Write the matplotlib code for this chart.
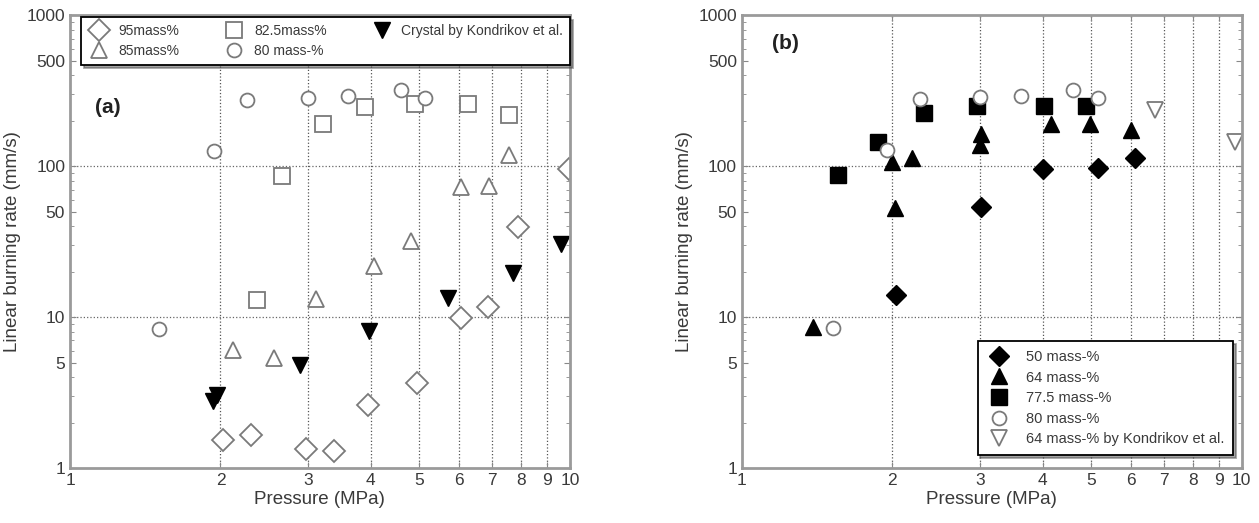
import matplotlib.pyplot as plt
from matplotlib.ticker import FixedLocator, FixedFormatter, NullFormatter

plt.rcParams['font.family'] = ['Liberation Sans', 'DejaVu Sans']

# (a) pressure [MPa] / linear burning rate [mm/s]
p95 = [2.02, 2.30, 2.97, 3.37, 3.95, 4.95, 6.07, 6.85, 7.88, 9.96]
r95 = [1.54, 1.66, 1.34, 1.29, 2.61, 3.67, 9.9, 11.6, 39.8, 96]
p85 = [2.12, 2.56, 3.11, 4.05, 4.82, 6.07, 6.89, 7.57]
r85 = [6.1, 5.4, 13.1, 21.8, 31.8, 73, 74, 119]
p825 = [2.37, 2.65, 3.21, 3.90, 4.89, 6.25, 7.55]
r825 = [12.9, 86, 189, 246, 257, 257, 219]
p80 = [1.51, 1.94, 2.26, 2.99, 3.60, 4.59, 5.13]
r80 = [8.4, 126, 275, 284, 290, 318, 284]
p_cryst = [1.93, 1.97, 2.89, 3.97, 5.71, 7.71, 9.62]
r_cryst = [2.77, 3.07, 4.80, 8.07, 13.4, 19.7, 30.5]

# (b)
p50 = [2.03, 3.01, 4.00, 5.15, 6.12]
r50 = [14.0, 53.8, 96, 97.5, 113.5]
p64 = [1.39, 2.00, 2.02, 2.19, 3.00, 3.01, 4.15, 4.96, 6.01]
r64 = [8.6, 106, 52.5, 113.5, 137, 163, 190, 190, 173]
p775 = [1.56, 1.87, 2.31, 2.96, 4.02, 4.87]
r775 = [87, 144, 226, 250, 252, 252]
p80b = [1.52, 1.95, 2.27, 3.00, 3.61, 4.59, 5.15]
r80b = [8.5, 127, 279, 286, 291, 317, 284]
p64k = [6.70, 9.68]
r64k = [234, 145]

x_ticks = [1, 2, 3, 4, 5, 6, 7, 8, 9, 10]
y_ticks = [1, 5, 10, 50, 100, 500, 1000]

GRAY = '#7a7a7a'
TEXT = '#3a3a3a'


def style_axes(ax):
    ax.set_xscale('log')
    ax.set_yscale('log')
    ax.set_xlim(1, 10)
    ax.set_ylim(1, 1000)
    ax.xaxis.set_major_locator(FixedLocator(x_ticks))
    ax.xaxis.set_major_formatter(FixedFormatter([str(v) for v in x_ticks]))
    ax.xaxis.set_minor_formatter(NullFormatter())
    ax.yaxis.set_major_locator(FixedLocator(y_ticks))
    ax.yaxis.set_major_formatter(FixedFormatter([str(v) for v in y_ticks]))
    ax.yaxis.set_minor_locator(FixedLocator(
        [m * 10 ** d for d in range(3) for m in range(2, 10) if m != 5]))
    ax.yaxis.set_minor_formatter(NullFormatter())
    ax.tick_params(which='both', direction='in', top=True, right=True,
                   colors='#888888', labelcolor=TEXT, labelsize=12.5)
    ax.tick_params(which='major', length=4)
    ax.tick_params(which='minor', length=3)
    for x in x_ticks[1:-1]:
        ax.axvline(x, color='#555555', ls=':', lw=0.9, zorder=0)
    for y in (10, 100):
        ax.axhline(y, color='#666666', ls=':', lw=0.9, zorder=0)
    for s in ax.spines.values():
        s.set_color('#9a9a9a')
        s.set_linewidth(2)
    ax.set_xlabel('Pressure (MPa)', fontsize=13.5, color=TEXT, labelpad=2)
    ax.set_ylabel('Linear burning rate (mm/s)', fontsize=13.5, color=TEXT,
                  labelpad=4)


def frame_legend(leg):
    leg.get_frame().set_edgecolor('black')
    leg.get_frame().set_linewidth(1.3)
    for t in leg.get_texts():
        t.set_color(TEXT)


fig = plt.figure(figsize=(12.59, 5.23), dpi=100)
ax_a = fig.add_axes([0.0556, 0.105, 0.397, 0.866])
ax_b = fig.add_axes([0.5893, 0.105, 0.397, 0.866])

open_kw = dict(ls='none', mfc='white', mec=GRAY, mew=1.3)
ax_a.plot(p95, r95, marker='D', ms=11, label='95mass%', **open_kw)
ax_a.plot(p85, r85, marker='^', ms=12, label='85mass%', **open_kw)
ax_a.plot(p825, r825, marker='s', ms=12, label='82.5mass%', **open_kw)
ax_a.plot(p80, r80, marker='o', ms=10, label='80 mass-%', **open_kw)
ax_a.plot(p_cryst, r_cryst, marker='v', ms=12, ls='none', color='black',
          label='Crystal by Kondrikov et al.')
style_axes(ax_a)
ax_a.text(0.076, 0.797, '(a)', transform=ax_a.transAxes, fontsize=15,
          fontweight='bold', color='#222222', ha='center', va='center')
leg_a = ax_a.legend(loc='upper left', bbox_to_anchor=(0.022, 0.879, 0.978, 0.117),
                    mode='expand', ncol=3, fontsize=10, frameon=True,
                    fancybox=False, shadow=True, borderaxespad=0,
                    handletextpad=0.6, columnspacing=1.0, labelspacing=0.45,
                    handlelength=1.6, borderpad=0.5)
frame_legend(leg_a)

ax_b.plot(p50, r50, marker='D', ms=10, ls='none', color='black', label='50 mass-%')
ax_b.plot(p64, r64, marker='^', ms=12, ls='none', color='black', label='64 mass-%')
ax_b.plot(p775, r775, marker='s', ms=11, ls='none', color='black',
          label='77.5 mass-%')
ax_b.plot(p80b, r80b, marker='o', ms=10, label='80 mass-%', **open_kw)
ax_b.plot(p64k, r64k, marker='v', ms=12, label='64 mass-% by Kondrikov et al.',
          **open_kw)
style_axes(ax_b)
ax_b.text(0.087, 0.938, '(b)', transform=ax_b.transAxes, fontsize=15,
          fontweight='bold', color='#222222', ha='center', va='center')
leg_b = ax_b.legend(loc='lower right', bbox_to_anchor=(0.982, 0.029),
                    fontsize=10.5, frameon=True, fancybox=False, shadow=True,
                    borderaxespad=0, handletextpad=0.9, labelspacing=0.45,
                    handlelength=1.8, borderpad=0.6)
frame_legend(leg_b)

fig.savefig('out.png', dpi=100)
